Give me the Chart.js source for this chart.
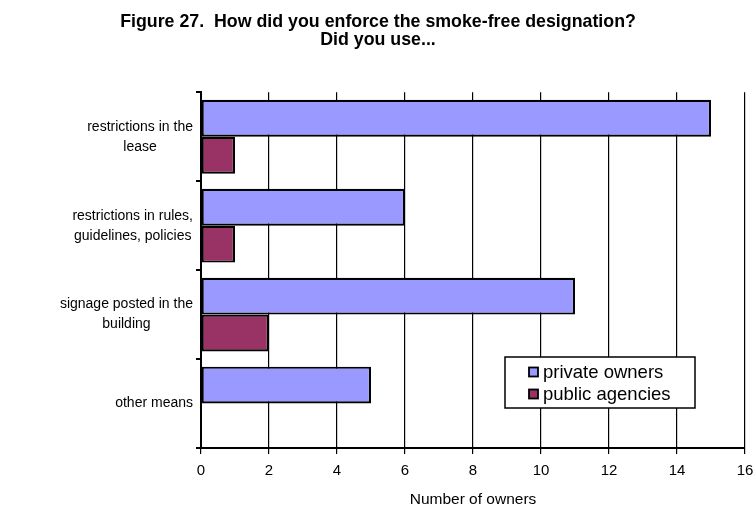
<!DOCTYPE html>
<html>
<head>
<meta charset="utf-8">
<script src="https://cdn.jsdelivr.net/npm/chart.js@4/dist/chart.umd.min.js"></script>
<style>
  html, body { margin: 0; padding: 0; background: #ffffff; }
  #wrap { width: 756px; height: 515px; position: relative; }
</style>
</head>
<body>
<div id="wrap"><canvas id="c" width="756" height="515"></canvas></div>
<script>
// Enforcement methods (multi-line labels)
const categories = [
  ["restrictions in the", "lease"],
  ["restrictions in rules,", "guidelines, policies"],
  ["signage posted in the", "building"],
  ["other means"]
];
const privateOwners = [15, 6, 11, 5];
const publicAgencies = [1, 1, 2, 0];
const seriesNames = ["private owners", "public agencies"];
const xTicks = [0, 2, 4, 6, 8, 10, 12, 14, 16];

const FONT = "'Liberation Sans', Arial, sans-serif";

// Category labels: each block right-aligned to the axis, its lines centred within the block
const categoryLabels = {
  id: 'categoryLabels',
  afterDraw(chart, args, opts) {
    const ctx = chart.ctx;
    const y = chart.scales.y;
    ctx.save();
    ctx.font = opts.size + 'px ' + FONT;
    ctx.fillStyle = '#000000';
    ctx.textAlign = 'center';
    ctx.textBaseline = 'middle';
    chart.data.labels.forEach((lines, i) => {
      const arr = Array.isArray(lines) ? lines : [lines];
      const maxW = Math.max(...arr.map(t => ctx.measureText(t).width));
      const right = chart.chartArea.left - opts.gap;
      const cx = right - maxW / 2;
      const cy = y.getPixelForValue(i);
      const top = cy - (arr.length - 1) * opts.lineHeight / 2;
      arr.forEach((t, k) => ctx.fillText(t, cx, top + k * opts.lineHeight));
    });
    ctx.restore();
  }
};

// Boxed legend drawn inside the plot area
const boxLegend = {
  id: 'boxLegend',
  afterDraw(chart, args, opts) {
    const ctx = chart.ctx;
    ctx.save();
    ctx.fillStyle = '#ffffff';
    ctx.fillRect(opts.x, opts.y, opts.w, opts.h);
    ctx.lineWidth = 1.5;
    ctx.strokeStyle = '#000000';
    ctx.strokeRect(opts.x, opts.y, opts.w, opts.h);
    chart.data.datasets.forEach((ds, i) => {
      const cy = opts.y + 15 + i * 22;
      ctx.fillStyle = ds.backgroundColor;
      ctx.fillRect(opts.x + 24, cy - 4.5, 9, 9);
      ctx.lineWidth = 1.8;
      ctx.strokeStyle = '#000000';
      ctx.strokeRect(opts.x + 24, cy - 4.5, 9, 9);
      ctx.fillStyle = '#000000';
      ctx.font = opts.size + 'px ' + FONT;
      ctx.textBaseline = 'middle';
      ctx.textAlign = 'left';
      ctx.fillText(ds.label, opts.x + 38, cy + 1);
    });
    ctx.restore();
  }
};

new Chart(document.getElementById('c'), {
  type: 'bar',
  data: {
    labels: categories,
    datasets: [
      {
        label: seriesNames[0],
        data: privateOwners,
        backgroundColor: '#9999ff',
        borderColor: '#000000',
        borderWidth: 2.2,
        borderSkipped: false
      },
      {
        label: seriesNames[1],
        data: publicAgencies,
        backgroundColor: '#993366',
        borderColor: '#000000',
        borderWidth: 2.2,
        borderSkipped: false
      }
    ]
  },
  options: {
    indexAxis: 'y',
    responsive: false,
    animation: false,
    datasets: { bar: { barPercentage: 1.0, categoryPercentage: 0.83 } },
    layout: { padding: { left: 0, right: 0, top: 0, bottom: 0 } },
    plugins: {
      legend: { display: false },
      tooltip: { enabled: false },
      title: {
        display: true,
        text: ['Figure 27.  How did you enforce the smoke-free designation?', 'Did you use...'],
        color: '#000000',
        font: { family: FONT, size: 17.8, weight: 'bold', lineHeight: 1.02 },
        padding: { top: 13, bottom: 43 }
      },
      categoryLabels: { size: 14, lineHeight: 20, gap: 8 },
      boxLegend: { x: 505, y: 357, w: 190, h: 51, size: 18.5 }
    },
    scales: {
      x: {
        min: 0,
        max: 16,
        afterBuildTicks(scale) { scale.ticks = xTicks.map(v => ({ value: v })); },
        afterFit(scale) {
          scale.height = 67;
          scale.paddingLeft = 0;
          scale.paddingRight = 11;
        },
        ticks: {
          color: '#000000',
          font: { family: FONT, size: 15 },
          padding: 8
        },
        grid: {
          color: '#000000',
          lineWidth: 1.2,
          tickLength: 6,
          drawOnChartArea: true
        },
        border: { color: '#000000', width: 2 },
        title: {
          display: true,
          text: 'Number of owners',
          color: '#000000',
          font: { family: FONT, size: 15.5 },
          padding: { top: 4, bottom: 6 }
        }
      },
      y: {
        afterFit(scale) { scale.width = 201; },
        ticks: { display: false },
        grid: {
          offset: true,
          drawOnChartArea: false,
          color: '#000000',
          lineWidth: 2,
          tickLength: 5
        },
        border: { color: '#000000', width: 2 }
      }
    }
  },
  plugins: [categoryLabels, boxLegend]
});
</script>
</body>
</html>
